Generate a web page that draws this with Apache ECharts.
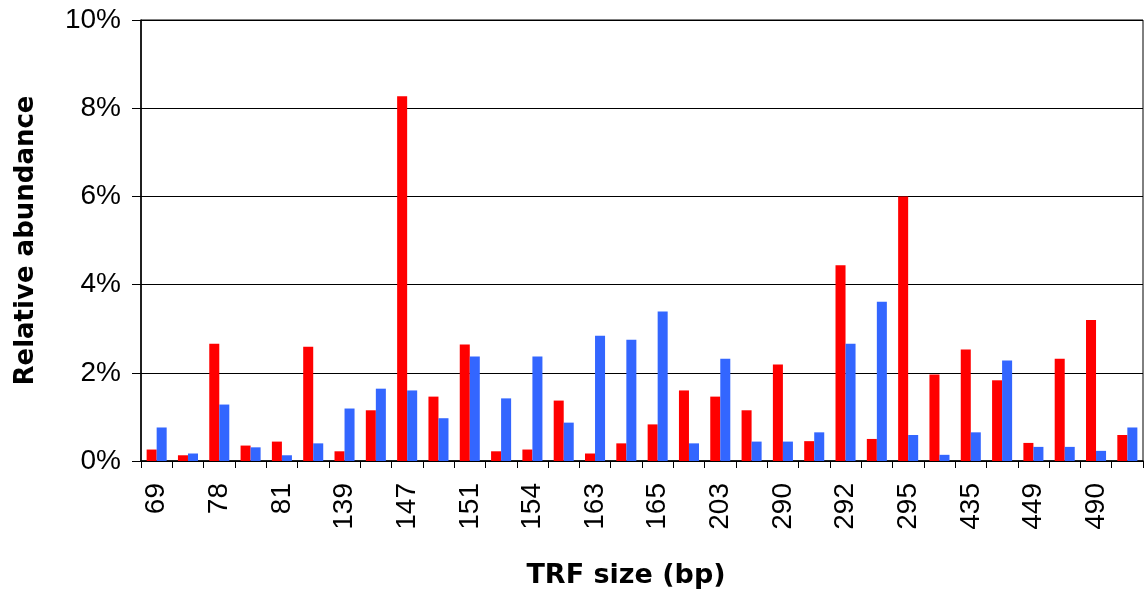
<!DOCTYPE html>
<html>
<head>
<meta charset="utf-8">
<script src="https://cdn.jsdelivr.net/npm/echarts@6/dist/echarts.min.js"></script>
<style>
html,body{margin:0;padding:0;background:#fff;}
#chart{width:1147px;height:596px;}
</style>
</head>
<body>
<div id="chart"></div>
<script>
// TRF sizes (only every other label is printed on the axis)
const categories = ['69','72','78','80','81','137','139','145','147','149','151','152','154','161','163','164','165','200','203','288','290','291','292','294','295','433','435','447','449','488','490','492'];
// Relative abundance (%), red series
const redValues = [0.26,0.13,2.66,0.35,0.44,2.59,0.22,1.15,8.27,1.46,2.64,0.22,0.26,1.37,0.17,0.40,0.83,1.60,1.46,1.15,2.19,0.45,4.44,0.50,6.00,1.96,2.53,1.83,0.41,2.32,3.20,0.59];
// Relative abundance (%), blue series
const blueValues = [0.76,0.17,1.28,0.31,0.13,0.40,1.19,1.64,1.60,0.97,2.37,1.42,2.37,0.87,2.84,2.75,3.39,0.40,2.32,0.44,0.44,0.65,2.66,3.61,0.59,0.14,0.65,2.28,0.32,0.32,0.23,0.76];
const yTicks = [0,2,4,6,8,10];

const chart = echarts.init(document.getElementById('chart'));
chart.setOption({
  animation: false,
  backgroundColor: '#ffffff',
  grid: {left: 141, right: 4, top: 20, bottom: 135, outerBoundsMode: 'none', containLabel: false, show: true, borderColor: '#000', borderWidth: 1, backgroundColor: 'transparent'},
  xAxis: {
    type: 'category',
    data: categories,
    name: 'TRF size (bp)',
    nameLocation: 'middle',
    nameGap: 101,
    nameTextStyle: {fontFamily: 'DejaVu Sans', fontWeight: 'bold', fontSize: 27, color: '#000', padding: [0, 32, 0, 0]},
    axisLine: {lineStyle: {color: '#000', width: 1.5}},
    axisTick: {show: true, length: 7, lineStyle: {color: '#000'}, alignWithLabel: false, interval: 0},
    axisLabel: {interval: 1, rotate: 90, margin: 22, fontFamily: 'Liberation Sans, Arial', fontSize: 28, color: '#000'}
  },
  yAxis: {
    type: 'value',
    min: yTicks[0],
    max: yTicks[yTicks.length - 1],
    interval: 2,
    name: 'Relative abundance',
    nameLocation: 'middle',
    nameGap: 102,
    nameTextStyle: {fontFamily: 'DejaVu Sans', fontWeight: 'bold', fontSize: 26, color: '#000'},
    axisLine: {show: true, lineStyle: {color: '#000', width: 1.5}},
    axisTick: {show: true, length: 9, lineStyle: {color: '#000'}},
    axisLabel: {margin: 20, fontFamily: 'Liberation Sans, Arial', fontSize: 28, color: '#000', formatter: '{value}%'},
    splitLine: {show: true, lineStyle: {color: '#000', width: 1}}
  },
  series: [
    {name: 'Red', type: 'bar', data: redValues, itemStyle: {color: '#ff0000'}, barGap: '0%', barCategoryGap: '36%'},
    {name: 'Blue', type: 'bar', data: blueValues, itemStyle: {color: '#3366ff'}, barGap: '0%', barCategoryGap: '36%'}
  ]
});
</script>
</body>
</html>
